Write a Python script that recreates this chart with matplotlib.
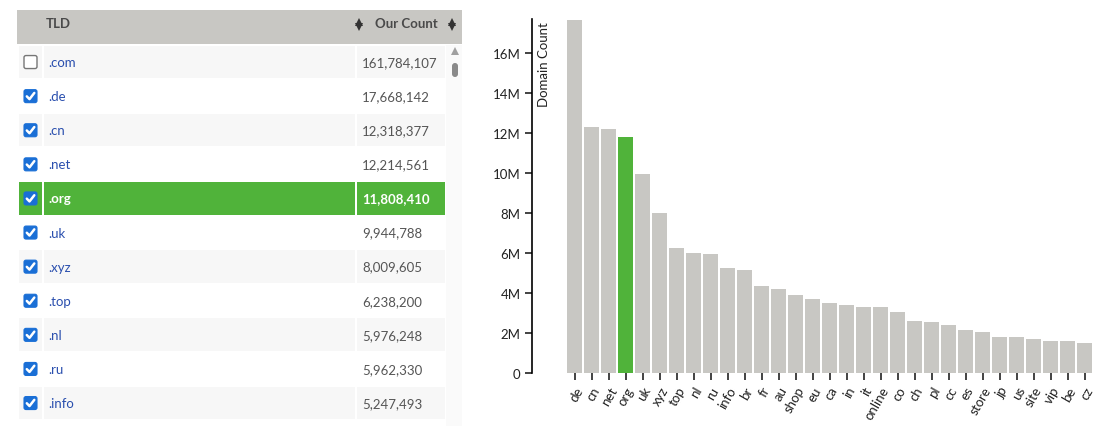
import matplotlib.pyplot as plt
from matplotlib.patches import Rectangle, FancyBboxPatch

plt.rcParams['font.family'] = ['Lato', 'DejaVu Sans']

# table rows (left panel)
table_tlds = ['.com', '.de', '.cn', '.net', '.org', '.uk', '.xyz', '.top', '.nl', '.ru', '.info']
table_counts = [161784107, 17668142, 12318377, 12214561, 11808410, 9944788,
                8009605, 6238200, 5976248, 5962330, 5247493]
table_checked = [False] + [True] * 10
selected = '.org'

# bar chart (right panel)
bar_tlds = ['de', 'cn', 'net', 'org', 'uk', 'xyz', 'top', 'nl', 'ru', 'info', 'br', 'fr',
            'au', 'shop', 'eu', 'ca', 'in', 'it', 'online', 'co', 'ch', 'pl', 'cc', 'es',
            'store', 'jp', 'us', 'site', 'vip', 'be', 'cz']
bar_counts = [17668142, 12318377, 12214561, 11808410, 9944788, 8009605, 6238200,
              5976248, 5962330, 5247493, 5170000, 4330000, 4200000, 3900000, 3680000,
              3480000, 3380000, 3320000, 3310000, 3030000, 2580000, 2530000, 2420000,
              2150000, 2070000, 1780000, 1780000, 1720000, 1620000, 1620000, 1480000]
y_ticks = [0, 2e6, 4e6, 6e6, 8e6, 10e6, 12e6, 14e6, 16e6]
y_ticklabels = ['0', '2M', '4M', '6M', '8M', '10M', '12M', '14M', '16M']

GRAY = '#c8c7c3'
GREEN = '#50b33a'
BLUE = '#1a6fd6'

W, H = 1118, 427
fig = plt.figure(figsize=(W / 100, H / 100), dpi=100)

# ---- table, drawn in pixel coordinates ----
tab = fig.add_axes([0, 0, 1, 1])
tab.set_xlim(0, W)
tab.set_ylim(H, 0)
tab.axis('off')

tab.add_patch(Rectangle((17, 11), 445, 34, color=GRAY, lw=0))
tab.text(46, 24, 'TLD', fontsize=9.5, fontweight='bold', color='#4a4a4a', va='center')
tab.text(375, 24, 'Our Count', fontsize=9.5, fontweight='bold', color='#4a4a4a', va='center')
for sx in (359, 452):
    tab.plot(sx, 23, marker='^', ms=5.5, color='#333333', mew=0)
    tab.plot(sx, 28, marker='v', ms=5.5, color='#333333', mew=0)

# scrollbar
tab.add_patch(Rectangle((446, 46), 16, 381, color='#fafafa', lw=0))
tab.plot(455, 52, marker='^', ms=6, color='#a0a0a0', mew=0)
tab.add_patch(FancyBboxPatch((452, 64), 6, 14, boxstyle='round,pad=0,rounding_size=3',
                             color='#8a8a8a', lw=0))

row_h = 34.1
cells = [(19, 23), (44, 311), (357, 88)]
for i, (tld, cnt, chk) in enumerate(zip(table_tlds, table_counts, table_checked)):
    top = 46.5 + row_h * i
    cy = top + row_h / 2 - 0.5
    is_sel = tld == selected
    if is_sel:
        bg = GREEN
    elif i % 2 == 0:
        bg = '#f7f7f7'
    else:
        bg = None
    if bg:
        for x0, w in cells:
            tab.add_patch(Rectangle((x0, top), w, row_h - 1.5, color=bg, lw=0))
    # checkbox
    if chk:
        tab.add_patch(FancyBboxPatch((24, cy - 6.5), 13, 13, boxstyle='round,pad=0,rounding_size=2',
                                     fc=BLUE, ec=BLUE, lw=0.8, zorder=3))
        tab.plot([26.8, 29.5, 34.3], [cy + 0.2, cy + 3, cy - 3.2], color='white', lw=1.8,
                 solid_capstyle='round', solid_joinstyle='round', zorder=4)
    else:
        tab.add_patch(FancyBboxPatch((24, cy - 6.5), 13, 13, boxstyle='round,pad=0,rounding_size=2',
                                     fc='white', ec='#767676', lw=1, zorder=3))
    tcol = 'white' if is_sel else '#2a4fae'
    ccol = 'white' if is_sel else '#555555'
    fw = 'bold' if is_sel else 'normal'
    tab.text(48, cy, tld, fontsize=9.5, color=tcol, va='center', fontweight=fw)
    tab.text(362, cy, f'{cnt:,}', fontsize=9.5, color=ccol, va='center', fontweight=fw)

# ---- bar chart ----
x0_px, x1_px, y0_px, y1_px = 531.7, 1100, 374, 20
ax = fig.add_axes([x0_px / W, (H - y0_px) / H, (x1_px - x0_px) / W, (y0_px - y1_px) / H])
ax.patch.set_alpha(0)
xs = list(range(len(bar_tlds)))
colors = [GREEN if '.' + t == selected else GRAY for t in bar_tlds]
ax.bar(xs, bar_counts, width=0.86, color=colors)
ax.set_xlim(-2.53, -2.53 + (x1_px - x0_px) / 17.0)
ax.set_ylim(0, 17.7e6)
ax.set_yticks(y_ticks)
ax.set_yticklabels(y_ticklabels)
ax.set_xticks(xs)
ax.set_xticklabels(bar_tlds, rotation=60, ha='right', va='top', rotation_mode='anchor')
for s in ('top', 'right', 'bottom'):
    ax.spines[s].set_visible(False)
ax.spines['left'].set_linewidth(1.2)
ax.tick_params(axis='y', length=5, width=1.2, labelsize=9.5, colors='#222222', pad=3)
ax.tick_params(axis='x', length=5, width=1.2, labelsize=9.5, colors='#222222', pad=3)
ax.text(0.022, 0.995, 'Domain Count', transform=ax.transAxes, rotation=90,
        ha='center', va='top', fontsize=9.5, color='#222222')

fig.savefig('out.png', dpi=100)
